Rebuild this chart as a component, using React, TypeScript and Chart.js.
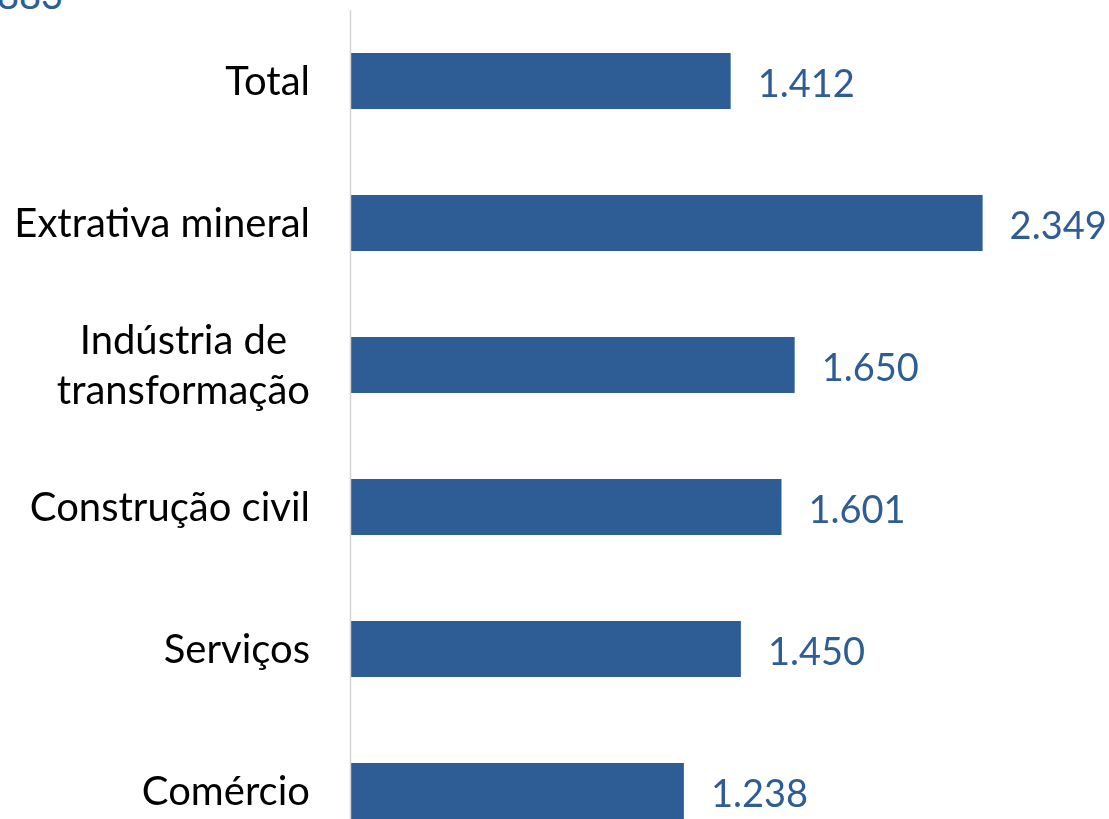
import React, { useEffect, useRef } from "react";
import { Chart, registerables } from "chart.js";

Chart.register(...registerables);

const categories: (string | string[])[] = [
  "Total",
  "Extrativa mineral",
  ["Indústria de", "transformação"],
  "Construção civil",
  "Serviços",
  "Comércio",
];
const values: number[] = [1412, 2349, 1650, 1601, 1450, 1238];
const fragmentLabel = "883";

const BAR_COLOR = "#2E5D96";
const LABEL_FONT = "40px Lato";
const VALUE_FONT = "38px Lato";

function fmt(v: number): string {
  const s = Math.round(v).toString();
  return s.replace(/\B(?=(\d{3})+(?!\d))/g, ".");
}

const labelPlugin = {
  id: "customLabels",
  afterDatasetsDraw(chart: any) {
    const ctx = chart.ctx as CanvasRenderingContext2D;
    const area = chart.chartArea;
    const yScale = chart.scales.y;
    const meta = chart.getDatasetMeta(0);
    ctx.save();
    // axis line
    ctx.strokeStyle = "#d4d4d4";
    ctx.lineWidth = 1.5;
    ctx.beginPath();
    ctx.moveTo(area.left - 0.5, area.top);
    ctx.lineTo(area.left - 0.5, area.bottom);
    ctx.stroke();

    ctx.textBaseline = "alphabetic";
    // category labels
    ctx.font = LABEL_FONT;
    categories.forEach((cat, i) => {
      const y = yScale.getPixelForValue(i);
      const lines = Array.isArray(cat) ? cat : [cat];
      const maxW = Math.max(...lines.map((l) => ctx.measureText(l).width));
      const rightX = area.left - 41;
      const cx = rightX - maxW / 2;
      const lh = 50;
      ctx.fillStyle = "#000000";
      ctx.textAlign = "center";
      lines.forEach((l, j) => {
        const ly = y + (j - (lines.length - 1) / 2) * lh + 13.5;
        ctx.fillText(l, cx, ly);
      });
    });
    // value labels
    ctx.font = VALUE_FONT;
    ctx.fillStyle = BAR_COLOR;
    ctx.textAlign = "left";
    meta.data.forEach((bar: any, i: number) => {
      ctx.fillText(fmt(values[i]), bar.x + 27, bar.y + 15.5);
    });
    ctx.restore();
  },
};

export default function App() {
  const ref = useRef<HTMLCanvasElement | null>(null);
  useEffect(() => {
    if (!ref.current) return;
    const chart = new Chart(ref.current, {
      type: "bar",
      data: {
        labels: categories as any,
        datasets: [
          {
            data: values,
            backgroundColor: BAR_COLOR,
            borderWidth: 0,
            barPercentage: 0.394,
            categoryPercentage: 1,
          },
        ],
      },
      options: {
        indexAxis: "y",
        animation: false,
        responsive: true,
        maintainAspectRatio: false,
        layout: { padding: { left: 351, top: 10, bottom: 8, right: 0 } },
        plugins: {
          legend: { display: false },
          tooltip: { enabled: false },
        },
        scales: {
          x: { display: false, min: 0, max: 2819 },
          y: { display: false },
        },
      },
      plugins: [labelPlugin],
    });
    return () => chart.destroy();
  }, []);

  return (
    <div
      style={{
        position: "fixed",
        top: 0,
        left: 0,
        width: 1109,
        height: 819,
        overflow: "hidden",
        background: "#ffffff",
      }}
    >
      <div
        style={{
          position: "absolute",
          left: -3,
          top: -29,
          font: VALUE_FONT,
          lineHeight: "46px",
          color: BAR_COLOR,
          whiteSpace: "nowrap",
        }}
      >
        {fragmentLabel}
      </div>
      <div style={{ position: "absolute", top: 0, left: 0, width: 1109, height: 870 }}>
        <canvas ref={ref} />
      </div>
    </div>
  );
}
